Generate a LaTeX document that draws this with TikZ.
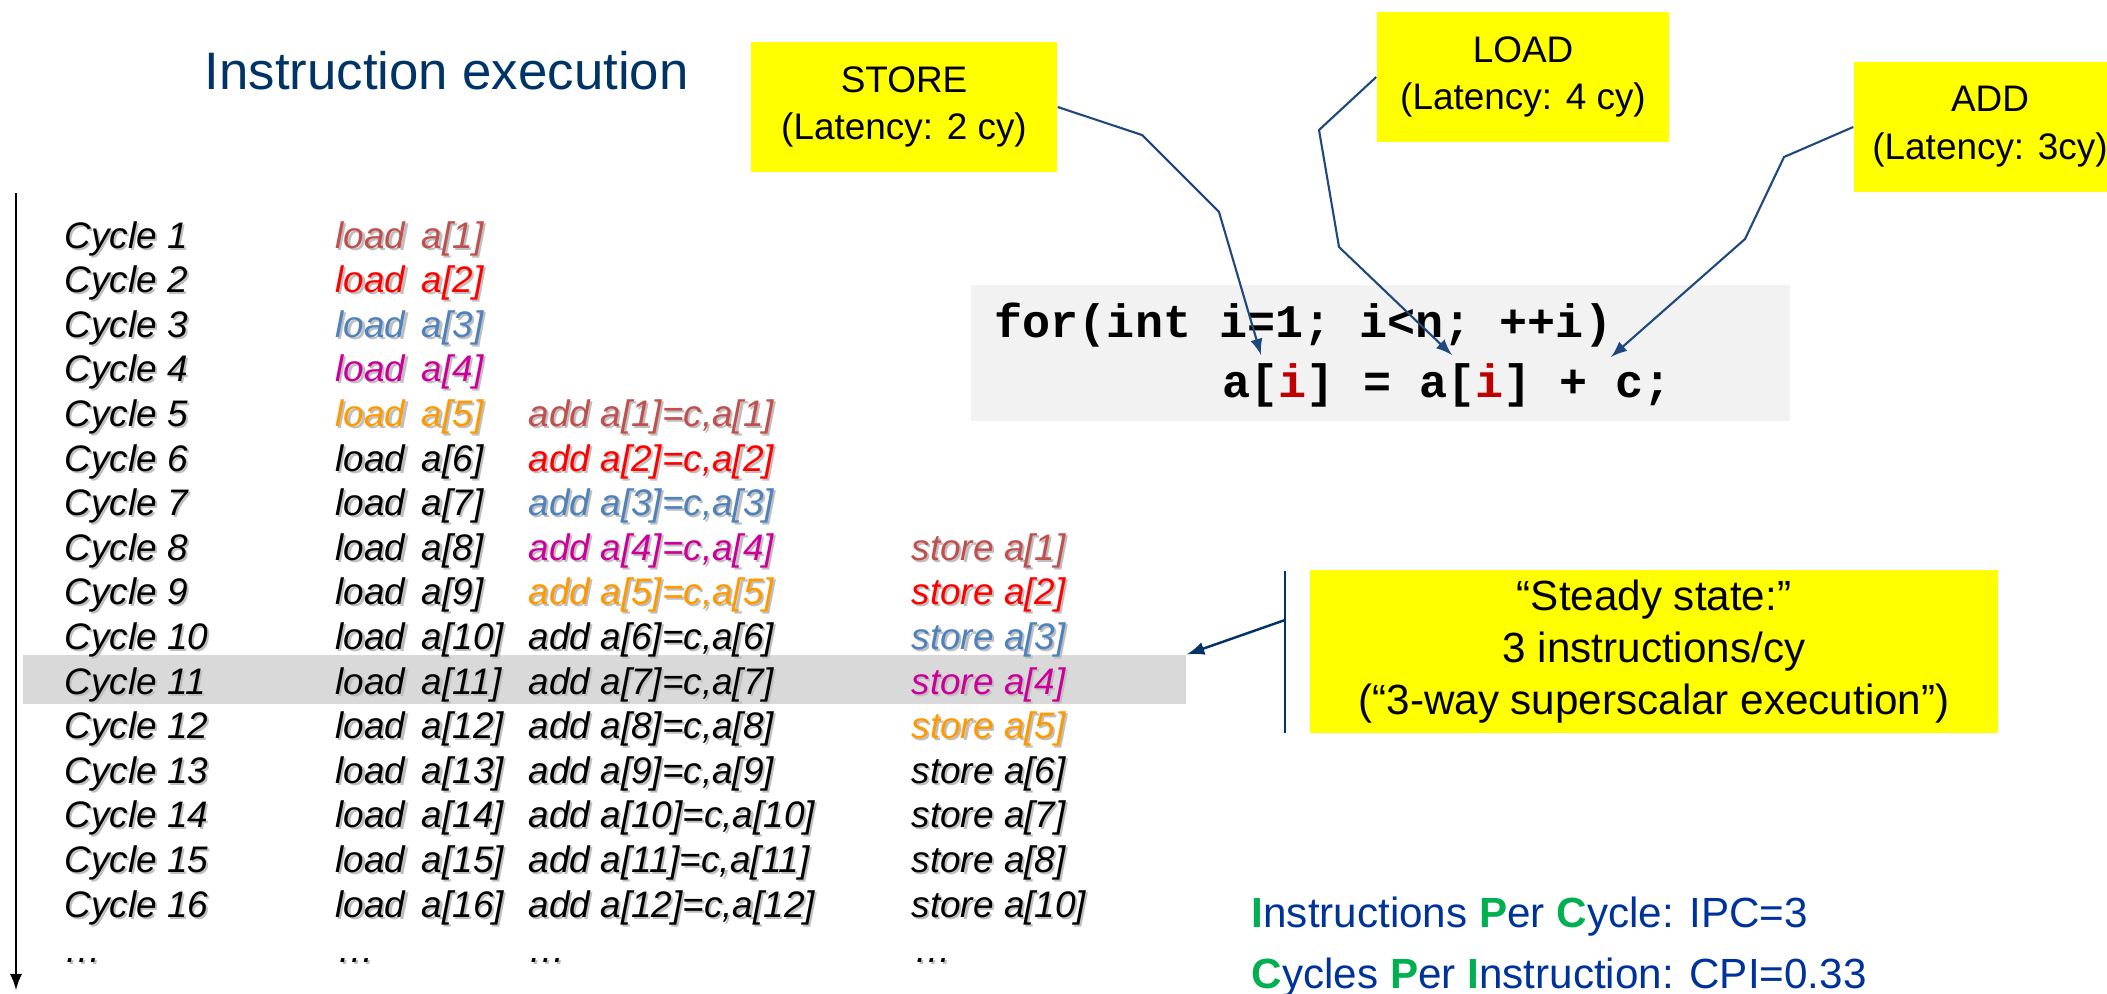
\documentclass[tikz,border=0pt]{standalone}
\usepackage{fontspec}
\setmainfont{Liberation Sans}
\setmonofont{Liberation Mono}
\usetikzlibrary{arrows,positioning}
\definecolor{titleblue}{RGB}{0,51,102}
\definecolor{linkblue}{RGB}{31,73,125}
\definecolor{hlgray}{RGB}{217,217,217}
\definecolor{codegray}{RGB}{242,242,242}
\definecolor{codered}{RGB}{192,0,0}
\definecolor{notey}{RGB}{255,255,0}
\definecolor{ipcblue}{RGB}{0,51,153}
\definecolor{ipcgreen}{RGB}{0,176,80}
\definecolor{col1}{RGB}{192,80,77}
\definecolor{col2}{RGB}{255,0,0}
\definecolor{col3}{RGB}{79,129,189}
\definecolor{col4}{RGB}{204,0,153}
\definecolor{col5}{RGB}{255,153,0}
\newcommand\opcol[1]{\ifnum#1>5 \color{black}\else\color{col#1}\fi}
\newcommand\shd[1]{\makebox[0pt][l]{\kern0.6pt\raisebox{-0.6pt}{\color{black!25}#1}}#1}
\newcommand\gr[1]{\textcolor{ipcgreen}{\bfseries #1}}
\tikzstyle{cyc}=[anchor=base west, inner sep=0pt, font=\fontsize{10.5}{12}\selectfont\itshape]
\tikzstyle{op}=[anchor=base west, inner sep=0pt, font=\fontsize{10.5}{12}\selectfont\itshape]
\tikzstyle{box}=[fill=notey, align=center, minimum height=1.3cm, inner sep=0pt, font=\fontsize{10.5}{13.6}\selectfont]
\tikzstyle{lnk}=[->, line width=0.6pt, draw=linkblue]
\tikzstyle{code}=[anchor=base west, inner sep=0pt, font=\fontsize{13.3}{16}\selectfont\ttfamily\bfseries]
\begin{document}
\begin{tikzpicture}[x=0.01cm,y=-0.01cm,>=latex]
\useasboundingbox (0,0) rectangle (2107,993);

\node[anchor=base west, inner sep=0pt, text=titleblue, font=\fontsize{15}{18}\selectfont] (title) at (204,89) {Instruction execution};

% highlighted row
\node[fill=hlgray, minimum width=11.63cm, minimum height=0.49cm, inner sep=0pt] (hl) at (604.5,679.5) {};

\foreach \i in {1,...,16} {
  \node[cyc] (cyc\i) at (64,{248+44.6*(\i-1)}) {\shd{Cycle \i}};
  \node[op] (ld\i) at (335,{248+44.6*(\i-1)}) {\opcol{\i}\shd{load\ \,a[\i]}};
}
\foreach \i [evaluate=\i as \k using int(\i-4)] in {5,...,16}
  \node[op] (add\i) at (528,{248+44.6*(\i-1)}) {\opcol{\k}\shd{add a[\k]=c,a[\k]}};
\foreach \i/\k in {8/1,9/2,10/3,11/4,12/5,13/6,14/7,15/8,16/10}
  \node[op] (st\i) at (911,{248+44.6*(\i-1)}) {\opcol{\k}\shd{store a[\k]}};

\node[cyc] (dots1) at (64,962) {\shd{\dots}};
\node[op] (dots2) at (337,962) {\shd{\dots}};
\node[op] (dots3) at (528,962) {\shd{\dots}};
\node[op] (dots4) at (914,962) {\shd{\dots}};

\coordinate (axtop) at (16,193);
\coordinate (axbot) at (16,990);
\draw[->, line width=0.6pt] (axtop) -- (axbot);

% code
\node[fill=codegray, minimum width=8.19cm, minimum height=1.36cm, inner sep=0pt] (loop) at (1380.5,353) {};
\node[code] (code1) at (994,337) {for(int i=1; i<n; ++i)};
\node[code] (code2) at (1222,397) {a[\textcolor{codered}{i}] = a[\textcolor{codered}{i}] + c;};

% latencies
\node[box, minimum width=3.06cm] (store) at (904,107) {STORE\\(Latency: 2 cy)};
\node[box, minimum width=2.92cm] (load) at (1523,77) {LOAD\\(Latency: 4 cy)};
\node[box, minimum width=2.72cm] (add) at (1990,127) {ADD\\(Latency: 3cy)};

\coordinate (tstore) at (1261,355);
\coordinate (tload) at (1452,355);
\coordinate (tadd) at (1611,357);
\draw[lnk] (store.east) -- (1142,135) -- (1219,212) -- (tstore);
\draw[lnk] (load.west) -- (1319,130) -- (1339,247) -- (tload);
\draw[lnk] (add.west) -- (1784,157) -- (1745,239) -- (tadd);

% steady state
\node[fill=notey, minimum width=6.88cm, minimum height=1.63cm, inner sep=0pt, align=center, font=\fontsize{12}{14.8}\selectfont] (steady) at (1654,651.5) {“Steady state:”\\3 instructions/cy\\(“3-way superscalar execution”)};
\coordinate (barT) at (1285,571);
\coordinate (barB) at (1285,733);
\coordinate (barM) at (1285,620);
\draw[titleblue, line width=0.7pt] (barT) -- (barB);
\draw[->, titleblue, line width=0.7pt] (barM) -- (hl.north east);

\node[anchor=base west, inner sep=0pt, text=ipcblue, font=\fontsize{12}{14}\selectfont] (ipc) at (1251,927) {\gr{I}nstructions \gr{P}er \gr{C}ycle: IPC=3};
\node[anchor=base west, inner sep=0pt, text=ipcblue, font=\fontsize{12}{14}\selectfont] (cpi) at (1251,988) {\gr{C}ycles \gr{P}er \gr{I}nstruction: CPI=0.33};
\end{tikzpicture}
\end{document}
